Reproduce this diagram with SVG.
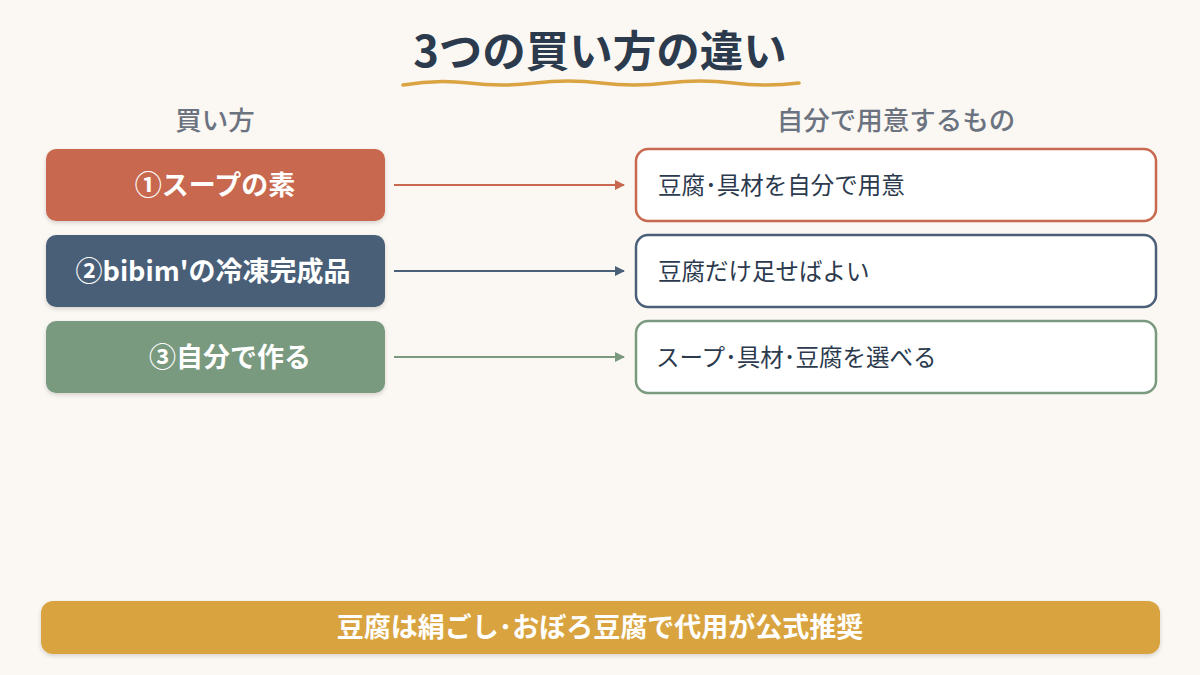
<svg xmlns="http://www.w3.org/2000/svg" width="1200" height="675" viewBox="0 0 1200 675">
<style>
text{font-family:"Noto Sans CJK JP","Noto Sans",sans-serif}
.title{font-size:43.5px;font-weight:700;fill:#2C3A4E}
.head{font-size:26.5px;font-weight:500;fill:#6B7380}
.lbl{font-size:27px;font-weight:700;fill:#FFFFFF}
.desc{font-size:23.5px;font-weight:400;fill:#2C3A4E}
.rbox{fill:#FFFFFF;stroke-width:2.5}
.foot{font-size:27px;font-weight:700;fill:#FFFFFF}
</style>
<defs>
<filter id="sh" x="-5%" y="-20%" width="110%" height="150%">
<feDropShadow dx="0" dy="2" stdDeviation="2" flood-color="#000" flood-opacity="0.15"/>
</filter>
<marker id="a1" viewBox="0 0 10 10" refX="9" refY="5" markerWidth="5" markerHeight="5" orient="auto"><path d="M0,0 L10,5 L0,10 z" fill="#C8694F"/></marker>
<marker id="a2" viewBox="0 0 10 10" refX="9" refY="5" markerWidth="5" markerHeight="5" orient="auto"><path d="M0,0 L10,5 L0,10 z" fill="#4A5F78"/></marker>
<marker id="a3" viewBox="0 0 10 10" refX="9" refY="5" markerWidth="5" markerHeight="5" orient="auto"><path d="M0,0 L10,5 L0,10 z" fill="#7A9A80"/></marker>
</defs>
<rect width="1200" height="675" fill="#FBF7F3"/>
<g id="title">
<text class="title" x="600" y="67" text-anchor="middle">3つの買い方の違い</text>
<path d="M403,85 Q436,79 469,83 T535,83 T601,83 T667,83 T733,83 T799,83" fill="none" stroke="#D9A441" stroke-width="3.5" stroke-linecap="round"/>
</g>
<g id="headers">
<text class="head" x="215" y="130" text-anchor="middle">買い方</text>
<text class="head" x="896" y="130" text-anchor="middle">自分で用意するもの</text>
</g>
<g id="n1"><rect x="46" y="149" width="339" height="72" rx="10" fill="#C8694F" filter="url(#sh)"/><text class="lbl" x="215" y="195" text-anchor="middle">①スープの素</text></g>
<g id="n2"><rect x="46" y="235" width="339" height="72" rx="10" fill="#4A5F78" filter="url(#sh)"/><text class="lbl" x="213" y="281" text-anchor="middle">②bibim'の冷凍完成品</text></g>
<g id="n3"><rect x="46" y="321" width="339" height="72" rx="10" fill="#7A9A80" filter="url(#sh)"/><text class="lbl" x="230" y="367" text-anchor="middle">③自分で作る</text></g>
<g id="r1"><rect class="rbox" x="636" y="149" width="520" height="72" rx="12" stroke="#C8694F"/><text class="desc" x="658" y="194">豆腐･具材を自分で用意</text></g>
<g id="r2"><rect class="rbox" x="636" y="235" width="520" height="72" rx="12" stroke="#4A5F78"/><text class="desc" x="658" y="280">豆腐だけ足せばよい</text></g>
<g id="r3"><rect class="rbox" x="636" y="321" width="520" height="72" rx="12" stroke="#7A9A80"/><text class="desc" x="656" y="366">スープ･具材･豆腐を選べる</text></g>
<g id="connectors">
<line x1="394" y1="185" x2="624" y2="185" stroke="#C8694F" stroke-width="2" marker-end="url(#a1)"/>
<line x1="394" y1="271" x2="624" y2="271" stroke="#4A5F78" stroke-width="2" marker-end="url(#a2)"/>
<line x1="394" y1="357" x2="624" y2="357" stroke="#7A9A80" stroke-width="2" marker-end="url(#a3)"/>
</g>
<g id="footer"><rect x="41" y="601" width="1119" height="53" rx="12" fill="#D9A441" filter="url(#sh)"/><text class="foot" x="600" y="637" text-anchor="middle">豆腐は絹ごし･おぼろ豆腐で代用が公式推奨</text></g>
</svg>
